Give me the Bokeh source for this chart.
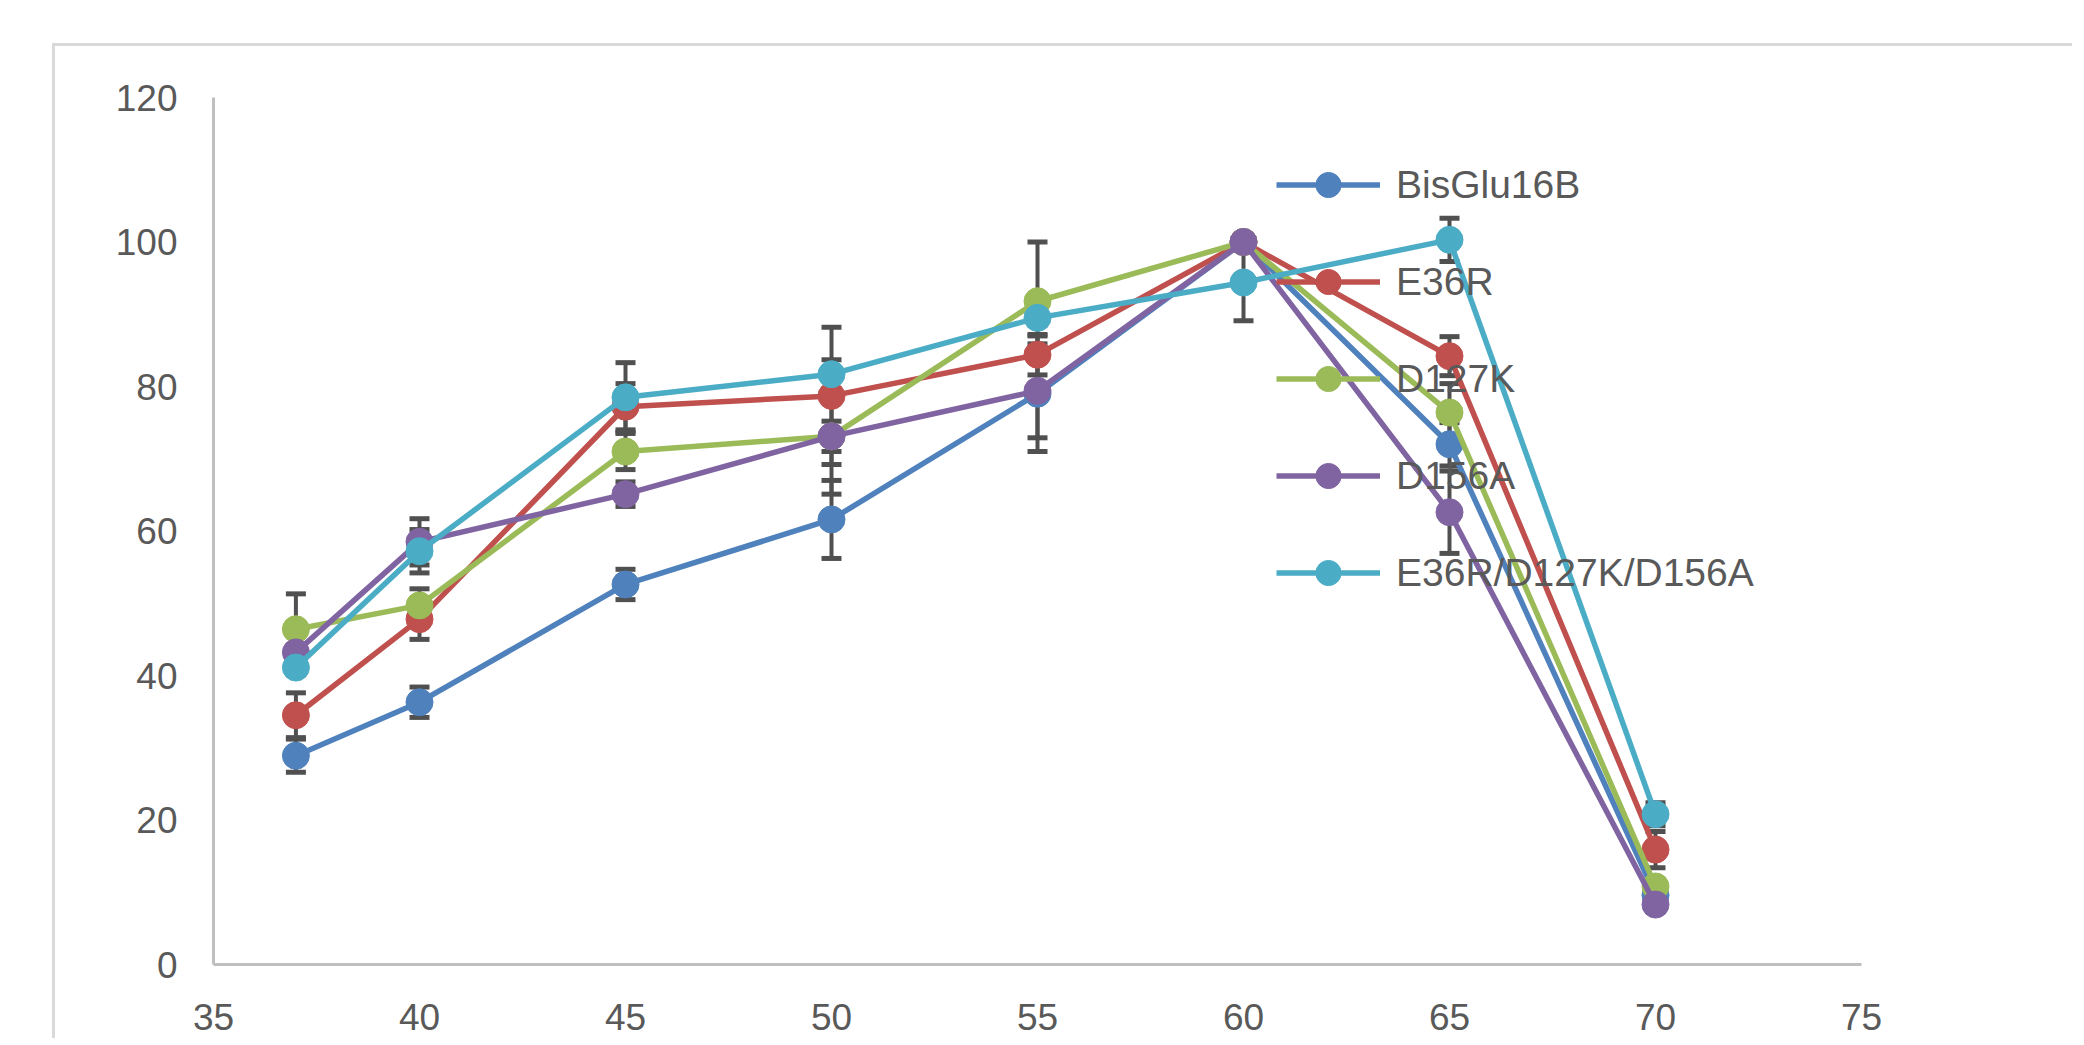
from bokeh.plotting import figure
from bokeh.models import (Range1d, FixedTicker, Whisker, TeeHead, ColumnDataSource,
                          Legend, LegendItem)
from bokeh.embed import file_html
from bokeh.resources import INLINE

# ---- data ----
temps = [37, 40, 45, 50, 55, 60, 65, 70]
series_names = ["BisGlu16B", "E36R", "D127K", "D156A", "E36R/D127K/D156A"]

bisglu16b = [28.9, 36.3, 52.6, 61.6, 79.0, 100.0, 72.0, 9.6]
bisglu16b_err = [2.3, 2.1, 2.1, 5.4, 8.0, 0.0, 3.0, 1.0]

e36r = [34.5, 47.8, 77.2, 78.7, 84.4, 100.0, 84.2, 15.9]
e36r_err = [3.1, 2.8, 3.2, 9.5, 2.8, 0.0, 2.7, 2.5]

d127k = [46.4, 49.7, 71.0, 73.1, 91.8, 100.0, 76.4, 10.8]
d127k_err = [4.9, 2.3, 2.5, 8.0, 8.2, 0.0, 4.0, 1.0]

d156a = [43.2, 58.5, 65.1, 73.1, 79.4, 100.0, 62.6, 8.3]
d156a_err = [1.0, 3.2, 1.7, 2.1, 6.5, 0.0, 5.7, 1.0]

triple = [41.1, 57.2, 78.5, 81.7, 89.5, 94.4, 100.3, 20.8]
triple_err = [1.0, 3.0, 4.8, 2.0, 1.0, 5.3, 3.0, 1.6]

series_values = [bisglu16b, e36r, d127k, d156a, triple]
series_errors = [bisglu16b_err, e36r_err, d127k_err, d156a_err, triple_err]
colors = ["#4f81bd", "#c0504d", "#9bbb59", "#8064a2", "#4bacc6"]

x_ticks = [35, 40, 45, 50, 55, 60, 65, 70, 75]
y_ticks = [0, 20, 40, 60, 80, 100, 120]

TEXT = "#595959"
FONT = "Liberation Sans, Arial, sans-serif"

p = figure(width=2020, height=995, x_range=Range1d(35, 75), y_range=Range1d(0, 120),
           output_backend="svg", toolbar_location=None,
           min_border_left=158, min_border_right=214, min_border_top=51, min_border_bottom=77)
p.styles = {"margin-left": "52px", "margin-top": "43px",
            "border-left": "3px solid #d9d9d9", "border-top": "3px solid #d9d9d9"}

p.background_fill_color = "white"
p.border_fill_color = "white"
p.outline_line_color = None
p.grid.visible = False

p.xaxis.ticker = FixedTicker(ticks=x_ticks)
p.yaxis.ticker = FixedTicker(ticks=y_ticks)
for ax in (p.xaxis[0], p.yaxis[0]):
    ax.axis_line_color = "#bfbfbf"
    ax.axis_line_width = 3
    ax.major_tick_line_color = None
    ax.minor_tick_line_color = None
    ax.major_label_text_font = FONT
    ax.major_label_text_font_size = "37px"
    ax.major_label_text_color = TEXT
p.xaxis.major_label_standoff = 33
p.yaxis.major_label_standoff = 30

items = []
renderers = []
for name, vals, col in zip(series_names, series_values, colors):
    src = ColumnDataSource(dict(x=temps, y=vals))
    lr = p.line("x", "y", source=src, line_color=col, line_width=5.5)
    sr = p.scatter("x", "y", source=src, size=27, fill_color=col, line_color=col, line_width=1)
    items.append(LegendItem(label=name, renderers=[lr, sr]))

# legend drawn beneath the data, as in the original
legend = Legend(items=items, location=(1063, 360), orientation="vertical",
                background_fill_alpha=0, border_line_alpha=0, padding=0, margin=0,
                spacing=34, glyph_width=104, glyph_height=63, label_height=63,
                label_standoff=16, label_text_font=FONT, label_text_font_size="39px",
                label_text_color=TEXT, label_text_baseline="middle", level="underlay")
p.add_layout(legend)

# error bars
for vals, errs in zip(series_values, series_errors):
    src = ColumnDataSource(dict(x=temps,
                                upper=[v + e for v, e in zip(vals, errs)],
                                lower=[v - e for v, e in zip(vals, errs)]))
    w = Whisker(base="x", upper="upper", lower="lower", source=src,
                line_color="#505050", line_width=4, level="underlay",
                upper_head=TeeHead(size=20, line_color="#505050", line_width=5),
                lower_head=TeeHead(size=20, line_color="#505050", line_width=5))
    p.add_layout(w)

open("out.html", "w").write(file_html(p, INLINE))
